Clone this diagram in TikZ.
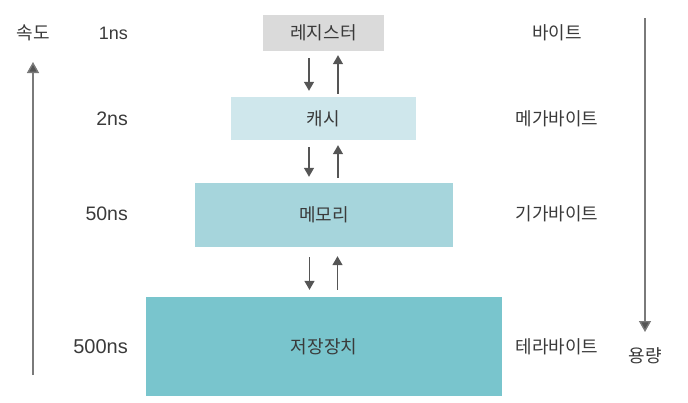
\documentclass[tikz,border=0pt]{standalone}
\usepackage{fontspec}
\setmainfont{Noto Sans CJK KR}
\newfontfamily\latinf{Liberation Sans}
\usetikzlibrary{arrows.meta}
\definecolor{txtc}{HTML}{3A3A3A}
\definecolor{regc}{HTML}{DADADA}
\definecolor{cachec}{HTML}{CFE7EC}
\definecolor{memc}{HTML}{A6D5DC}
\definecolor{stoc}{HTML}{79C5CD}
\definecolor{arrc}{HTML}{555555}
\definecolor{bigc}{HTML}{7A7A7A}
\tikzset{
  lvlbox/.style={draw=none, inner sep=0pt, text=txtc, font=\fontsize{18}{21}\selectfont},
  lbl/.style={inner sep=0pt, text=txtc, font=\fontsize{18}{21}\selectfont},
  nslbl/.style={inner sep=0pt, text=txtc, anchor=east},
  smallarr/.style={draw=arrc, line width=1.3pt, -{Triangle[width=10pt,length=9pt]}},
  bigarr/.style={draw=bigc, line width=1.4pt, -{Triangle[width=12pt,length=11pt,fill=arrc]}}
}
\begin{document}
\begin{tikzpicture}[x=1pt,y=-1pt]
\useasboundingbox (0,0) rectangle (688,402);
\node[lvlbox, fill=regc, minimum width=121pt, minimum height=36pt] (reg) at (323.5,33) {레지스터};
\node[lvlbox, fill=cachec, minimum width=185pt, minimum height=43pt] (cache) at (323.5,118.5) {캐시};
\node[lvlbox, fill=memc, minimum width=258pt, minimum height=64pt] (mem) at (324,215) {메모리};
\node[lvlbox, fill=stoc, minimum width=356pt, minimum height=99pt] (sto) at (324,346.5) {저장장치};

% arrows between levels
\draw[smallarr, shorten <=7pt, shorten >=6pt] ([xshift=-14.5pt]reg.south) -- ([xshift=-14.5pt]reg.south |- cache.north);
\draw[smallarr, shorten <=3pt, shorten >=4pt] ([xshift=14.5pt]reg.south |- cache.north) -- ([xshift=14.5pt]reg.south);
\draw[smallarr, shorten <=7pt, shorten >=6pt] ([xshift=-14.5pt]cache.south) -- ([xshift=-14.5pt]cache.south |- mem.north);
\draw[smallarr, shorten <=5pt, shorten >=5pt] ([xshift=14.5pt]cache.south |- mem.north) -- ([xshift=14.5pt]cache.south);
\draw[smallarr, shorten <=10pt, shorten >=7pt] ([xshift=-14.5pt]mem.south) -- ([xshift=-14.5pt]mem.south |- sto.north);
\draw[smallarr, shorten <=7pt, shorten >=9pt] ([xshift=13.5pt]mem.south |- sto.north) -- ([xshift=13.5pt]mem.south);

% left labels
\node[nslbl, font=\latinf\fontsize{18}{21}\selectfont] (t1) at (128,33) {1ns};
\node[nslbl, font=\latinf\fontsize{19.5}{23}\selectfont] (t2) at (128,118.5) {2ns};
\node[nslbl, font=\latinf\fontsize{19.5}{23}\selectfont] (t3) at (128,214) {50ns};
\node[nslbl, font=\latinf\fontsize{20}{24}\selectfont] (t4) at (128,347) {500ns};

% right labels
\node[lbl] (c1) at (557,33) {바이트};
\node[lbl] (c2) at (557,118.5) {메가바이트};
\node[lbl] (c3) at (557,214) {기가바이트};
\node[lbl] (c4) at (557,347) {테라바이트};

% speed axis
\node[lbl] (speed) at (33,33) {속도};
\coordinate (sb) at (33,375);
\coordinate (st) at (33,62);
\draw[bigarr] (sb) -- (st);

% capacity axis
\node[lbl] (cap) at (645,356) {용량};
\coordinate (ct) at (645,18);
\coordinate (cb) at (645,332);
\draw[bigarr] (ct) -- (cb);
\end{tikzpicture}
\end{document}
